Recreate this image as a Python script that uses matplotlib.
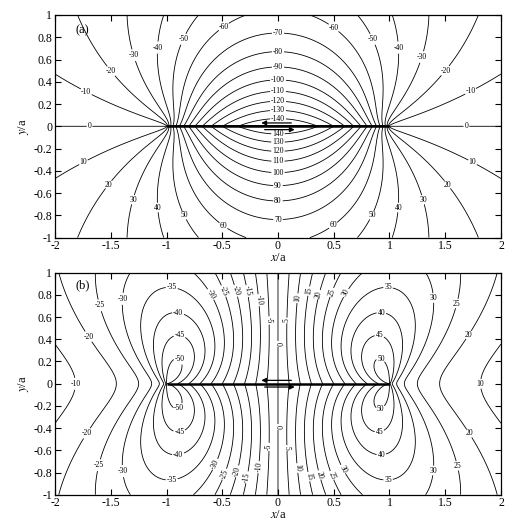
import numpy as np
import matplotlib
matplotlib.use("Agg")
import matplotlib.pyplot as plt

plt.rcParams['font.family'] = ['Liberation Serif', 'DejaVu Serif']
plt.rcParams['mathtext.fontset'] = 'stix'
plt.rcParams['axes.unicode_minus'] = False
plt.rcParams['contour.negative_linestyle'] = 'solid'

# ---------------- data ----------------
levels_a = [-140, -130, -120, -110, -100, -90, -80, -70, -60, -50, -40, -30, -20, -10,
            0, 10, 20, 30, 40, 50, 60, 70, 80, 90, 100, 110, 120, 130, 140]
levels_b = [-50, -45, -40, -35, -30, -25, -20, -10, -5, 0, 5, 10, 20, 25, 30, 35, 40, 45, 50]
levels_b_15 = [-15, 15]
outer_label_b = {-15: '-10', 15: '10'}     # text printed on the outer curves in the reference

xticks = [-2, -1.5, -1, -0.5, 0, 0.5, 1, 1.5, 2]
xtick_labels = ['-2', '-1.5', '-1', '-0.5', '0', '0.5', '1', '1.5', '2']
yticks = [-1, -0.8, -0.6, -0.4, -0.2, 0, 0.2, 0.4, 0.6, 0.8, 1]
ytick_labels = ['-1', '-0.8', '-0.6', '-0.4', '-0.2', '0', '0.2', '0.4', '0.6', '0.8', '1']

# field amplitudes (crack of half-length a, centre at origin)
amp_a = 150.0      # value of panel (a) on the crack faces at the centre
amp_b_re = 50.0
amp_b_im = 100.0

# contour label places (level, x, y)
labels_a = [(-70, 0, 0.865), (-80, 0, 0.695), (-90, 0, 0.565), (-100, 0, 0.446),
            (-110, 0, 0.338), (-120, 0, 0.245), (-130, 0, 0.162), (-140, 0, 0.086),
            (-60, -0.42, 0.80), (-60, 0.437, 0.80), (-50, -0.735, 0.73), (-50, 0.735, 0.73),
            (-40, -0.94, 0.70), (-40, 0.945, 0.70), (-30, -1.19, 0.67), (-30, 1.18, 0.656),
            (-20, -1.43, 0.55), (-20, 1.44, 0.55), (-10, -1.70, 0.35), (-10, 1.71, 0.35),
            (0, -1.69, 0.0), (0, 1.69, 0.0),
            (140, 0, -0.093), (130, 0, -0.174), (120, 0, -0.261), (110, 0, -0.357),
            (100, 0, -0.467), (90, 0, -0.581), (80, 0, -0.716), (70, 0, -0.887),
            (60, -0.445, -0.83), (60, 0.45, -0.83), (50, -0.74, -0.75), (50, 0.74, -0.75),
            (40, -0.94, -0.72), (40, 0.94, -0.72), (30, -1.19, -0.69), (30, 1.19, -0.69),
            (20, -1.46, -0.57), (20, 1.46, -0.57), (10, -1.72, -0.37), (10, 1.72, -0.37)]
labels_b = [(-50, -0.86, 0.25), (-50, -0.86, -0.26), (50, 0.93, 0.25), (50, 0.93, -0.26),
            (-45, -0.88, 0.46), (-45, -0.88, -0.48), (45, 0.915, 0.47), (45, 0.915, -0.47),
            (-40, -0.89, 0.67), (-40, -0.89, -0.68), (40, 0.93, 0.67), (40, 0.93, -0.68),
            (-35, -0.95, 0.90), (-35, -0.95, -0.90), (35, 0.99, 0.90), (35, 0.99, -0.90),
            (-30, -1.33, 0.76), (-30, -1.33, -0.78), (-30, -0.595, 0.81), (-30, -0.58, -0.72),
            (30, 1.36, 0.77), (30, 1.36, -0.78), (30, 0.57, 0.84), (30, 0.60, -0.76),
            (-25, -1.54, 0.72), (-25, -1.54, -0.75), (-25, -0.50, 0.83), (-25, -0.50, -0.81),
            (25, 1.57, 0.73), (25, 1.57, -0.75), (25, 0.44, 0.84), (25, 0.50, -0.82),
            (-20, -1.66, 0.45), (-20, -1.66, -0.48), (-20, -0.40, 0.83), (-20, -0.40, -0.78),
            (20, 1.68, 0.46), (20, 1.68, -0.47), (20, 0.34, 0.81), (20, 0.38, -0.82),
            (-10, -0.19, 0.75), (-10, -0.19, -0.75), (10, 0.16, 0.77), (10, 0.17, -0.76),
            (-5, -0.10, 0.57), (-5, -0.10, -0.57), (5, 0.063, 0.57), (5, 0.063, -0.58),
            (0, 0.0, 0.36), (0, 0.0, -0.39)]
labels_b_mid15 = [(-15, -0.30, 0.83), (-15, -0.30, -0.84), (15, 0.25, 0.84), (15, 0.26, -0.84)]
labels_b_out15 = [(-15, -1.78, 0.0), (15, 1.78, 0.0)]

# ---------------- field on a grid ----------------
xg = np.linspace(-2, 2, 1601)
yg = np.linspace(-1, 1, 800)
X, Y = np.meshgrid(xg, yg)
Zc = X + 1j * Y
S = np.sqrt(Zc - 1) * np.sqrt(Zc + 1)
Zhat = S - Zc
Zw = Zc / S - 1
field_a = -amp_a * Zhat.imag
field_b = -amp_b_re * Zhat.real - amp_b_im * Y * Zw.imag

# ---------------- figure ----------------
fig = plt.figure(figsize=(5.29, 5.26), dpi=100)
ax_a = fig.add_axes([0.104, 0.5483, 0.843, 0.4232])
ax_b = fig.add_axes([0.104, 0.0595, 0.843, 0.4221])

LW = 0.6
LFS = 5.5


def put_labels(cs, specs, fmt, upright_beyond=None):
    lev_list = [float(v) for v in cs.levels]
    paths = cs.get_paths()
    pts = []
    for lev, x, y in specs:
        i = lev_list.index(float(lev))
        v = paths[i].vertices
        if len(v) == 0:
            continue
        d = (v[:, 0] - x) ** 2 + (v[:, 1] - y) ** 2
        pts.append(tuple(v[np.argmin(d)]))
    txts = cs.clabel(manual=pts, fmt=fmt, fontsize=LFS, inline=True, inline_spacing=1)
    if upright_beyond is not None:
        for t in txts:
            if abs(t.get_position()[0]) >= upright_beyond:
                t.set_rotation(0)
    return txts


fmt_int = lambda v: '%d' % round(v)

cs_a = ax_a.contour(X, Y, field_a, levels=levels_a, colors='k', linewidths=LW,
                    linestyles='solid')
put_labels(cs_a, labels_a, fmt_int, upright_beyond=0.0)

cs_b = ax_b.contour(X, Y, field_b, levels=levels_b, colors='k', linewidths=LW,
                    linestyles='solid')
put_labels(cs_b, labels_b, fmt_int, upright_beyond=0.75)
mid = np.ma.masked_where(np.abs(X) > 1.1, field_b)
out = np.ma.masked_where(np.abs(X) < 1.1, field_b)
cs_bm = ax_b.contour(X, Y, mid, levels=levels_b_15, colors='k', linewidths=LW,
                     linestyles='solid')
put_labels(cs_bm, labels_b_mid15, fmt_int)
cs_bo = ax_b.contour(X, Y, out, levels=levels_b_15, colors='k', linewidths=LW,
                     linestyles='solid')
put_labels(cs_bo, labels_b_out15, lambda v: outer_label_b[int(round(v))], upright_beyond=0.0)

for ax, tag in ((ax_a, '(a)'), (ax_b, '(b)')):
    ax.plot([-1, 1], [0, 0], color='k', lw=1.8, solid_capstyle='butt', zorder=5)
    ax.annotate('', xy=(-0.15, 0.03), xytext=(0.12, 0.03),
                arrowprops=dict(arrowstyle='-|>', color='k', lw=0.9, mutation_scale=7,
                                shrinkA=0, shrinkB=0), zorder=6)
    ax.annotate('', xy=(0.15, -0.03), xytext=(-0.12, -0.03),
                arrowprops=dict(arrowstyle='-|>', color='k', lw=0.9, mutation_scale=7,
                                shrinkA=0, shrinkB=0), zorder=6)
    ax.set_xlim(-2, 2)
    ax.set_ylim(-1, 1)
    ax.set_xticks(xticks)
    ax.set_xticklabels(xtick_labels)
    ax.set_yticks(yticks)
    ax.set_yticklabels(ytick_labels)
    ax.tick_params(direction='in', top=True, right=True, length=4, width=0.8,
                   labelsize=8.5, pad=2)
    for sp in ax.spines.values():
        sp.set_linewidth(0.9)
    ax.set_xlabel(r'$x$/a', fontsize=9, labelpad=0)
    ax.set_ylabel(r'$y$/a', fontsize=9, labelpad=2)
    ax.text(0.045, 0.93 if tag == '(a)' else 0.944, tag, transform=ax.transAxes,
            fontsize=9, va='center', ha='left')

fig.savefig("out.png", dpi=100)
